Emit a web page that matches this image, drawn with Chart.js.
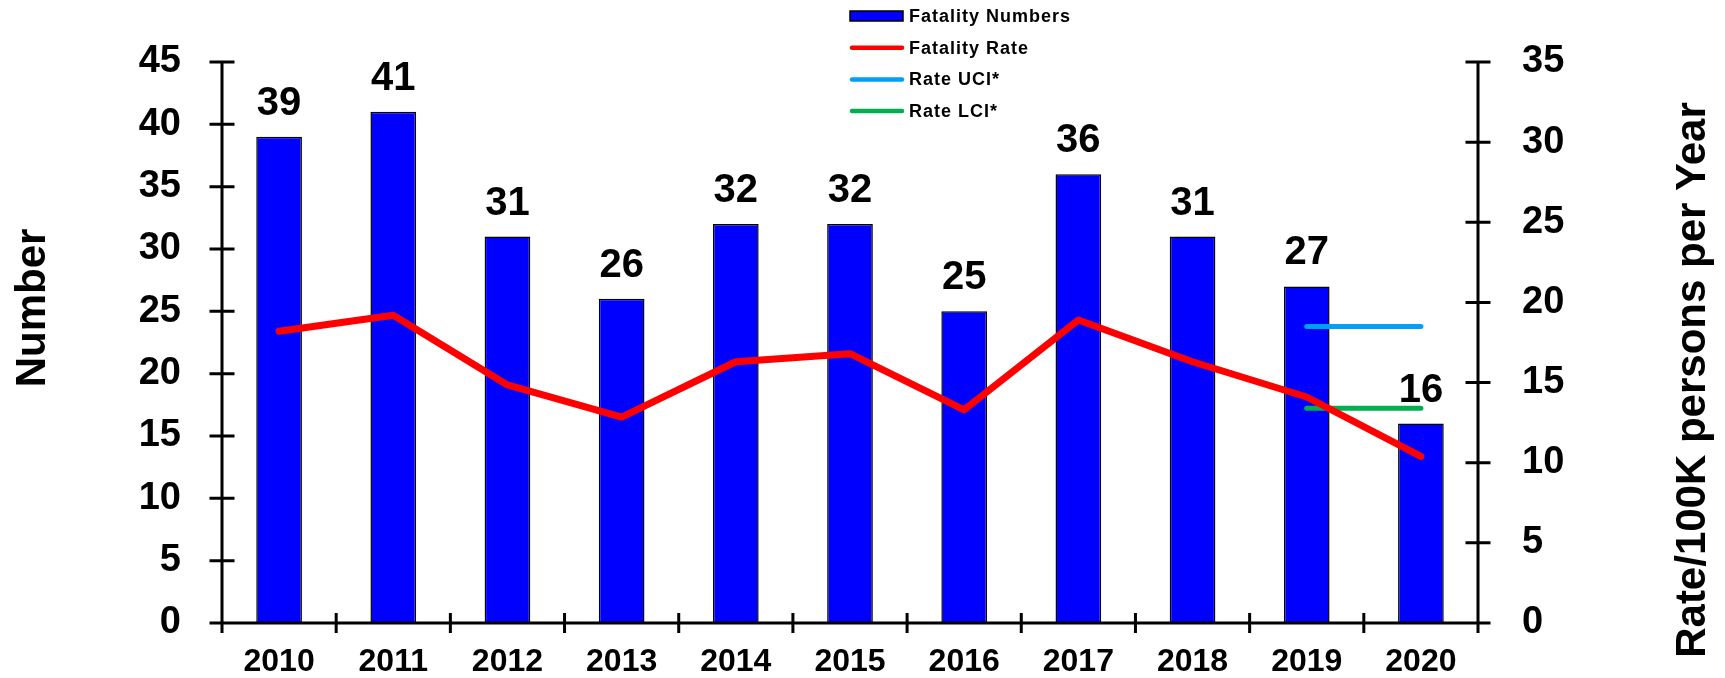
<!DOCTYPE html>
<html>
<head>
<meta charset="utf-8">
<script src="https://cdn.jsdelivr.net/npm/chart.js@4/dist/chart.umd.min.js"></script>
<style>
html,body{margin:0;padding:0;background:#fff;}
canvas{display:block;}
</style>
</head>
<body>
<canvas id="c" width="1725" height="678"></canvas>
<script>
const years = ['2010','2011','2012','2013','2014','2015','2016','2017','2018','2019','2020'];
const fatalityNumbers = [39, 41, 31, 26, 32, 32, 25, 36, 31, 27, 16];
const fatalityRate = [18.2, 19.2, 14.85, 12.85, 16.3, 16.8, 13.3, 18.9, 16.3, 14.1, 10.4];
const rateUCI = [null, null, null, null, null, null, null, null, null, 18.5, 18.5];
const rateLCI = [null, null, null, null, null, null, null, null, null, 13.4, 13.4];
const leftTicks = [0, 5, 10, 15, 20, 25, 30, 35, 40, 45];
const rightTicks = [0, 5, 10, 15, 20, 25, 30, 35];
const leftTitle = 'Number';
const rightTitle = 'Rate/100K persons per Year';

const FONT = '"Liberation Sans", Arial, Helvetica, sans-serif';

const axesPlugin = {
  id: 'axesPlugin',
  afterDatasetsDraw(chart) {
    const ctx = chart.ctx;
    const ca = chart.chartArea;
    const x = chart.scales.x, yL = chart.scales.y, yR = chart.scales.y1;
    ctx.save();
    ctx.strokeStyle = '#000';
    ctx.lineWidth = 3;
    ctx.lineCap = 'butt';
    const T = 12.5;
    ctx.beginPath();
    ctx.moveTo(ca.left, ca.top); ctx.lineTo(ca.left, ca.bottom);
    leftTicks.forEach(v => { const py = yL.getPixelForValue(v); ctx.moveTo(ca.left - T, py); ctx.lineTo(ca.left + T, py); });
    ctx.moveTo(ca.right, ca.top); ctx.lineTo(ca.right, ca.bottom);
    rightTicks.forEach(v => { const py = yR.getPixelForValue(v); ctx.moveTo(ca.right - T, py); ctx.lineTo(ca.right + T, py); });
    ctx.moveTo(ca.left, ca.bottom); ctx.lineTo(ca.right, ca.bottom);
    const n = years.length;
    const step = x.getPixelForValue(1) - x.getPixelForValue(0);
    for (let i = 0; i <= n; i++) {
      const px = x.getPixelForValue(0) - step / 2 + i * step;
      ctx.moveTo(px, ca.bottom - 10); ctx.lineTo(px, ca.bottom + 10);
    }
    ctx.stroke();

    const meta = chart.getDatasetMeta(0);
    ctx.fillStyle = '#000';
    ctx.font = 'bold 40px ' + FONT;
    ctx.textAlign = 'center';
    ctx.textBaseline = 'alphabetic';
    meta.data.forEach((bar, i) => {
      ctx.fillText(String(fatalityNumbers[i]), bar.x, bar.y - 22);
    });

    ctx.font = 'bold 42px ' + FONT;
    ctx.textBaseline = 'middle';
    ctx.save();
    ctx.translate(33, 308);
    ctx.rotate(-Math.PI / 2);
    ctx.fillText(leftTitle, 0, 0);
    ctx.restore();
    ctx.save();
    ctx.translate(1693, 380);
    ctx.rotate(-Math.PI / 2);
    ctx.fillText(rightTitle, 0, 0);
    ctx.restore();

    const items = chart.data.datasets;
    const lx = 850, ly0 = 16, dy = 31.7;
    ctx.font = 'bold 18px ' + FONT;
    try { ctx.letterSpacing = '1px'; } catch (e) {}
    ctx.textAlign = 'left';
    items.forEach((ds, i) => {
      const yy = ly0 + i * dy;
      if (ds.type === 'bar') {
        ctx.fillStyle = ds.backgroundColor;
        ctx.fillRect(lx, yy - 5, 53, 10);
        ctx.lineWidth = 1.5; ctx.strokeStyle = '#000';
        ctx.strokeRect(lx, yy - 5, 53, 10);
      } else {
        ctx.strokeStyle = ds.borderColor;
        ctx.lineWidth = 4.5; ctx.lineCap = 'round';
        ctx.beginPath(); ctx.moveTo(lx + 2, yy); ctx.lineTo(lx + 52, yy); ctx.stroke();
      }
      ctx.fillStyle = '#000';
      ctx.fillText(ds.label, lx + 59, yy + 1);
    });
    ctx.restore();
  }
};

new Chart(document.getElementById('c'), {
  data: {
    labels: years,
    datasets: [
      { type: 'bar', label: 'Fatality Numbers', data: fatalityNumbers, yAxisID: 'y',
        backgroundColor: '#0000FF', borderColor: '#000', borderWidth: 1.5,
        barPercentage: 0.4, categoryPercentage: 1, order: 10 },
      { type: 'line', label: 'Fatality Rate', data: fatalityRate, yAxisID: 'y1',
        borderColor: '#FF0000', borderWidth: 7, pointRadius: 0, tension: 0,
        borderCapStyle: 'round', borderJoinStyle: 'round', fill: false, order: 1 },
      { type: 'line', label: 'Rate UCI*', data: rateUCI, yAxisID: 'y1',
        borderColor: '#00A0F5', borderWidth: 5, pointRadius: 0, tension: 0,
        borderCapStyle: 'round', fill: false, spanGaps: false, order: 2 },
      { type: 'line', label: 'Rate LCI*', data: rateLCI, yAxisID: 'y1',
        borderColor: '#00B050', borderWidth: 5, pointRadius: 0, tension: 0,
        borderCapStyle: 'round', fill: false, spanGaps: false, order: 3 }
    ]
  },
  options: {
    responsive: false,
    animation: false,
    devicePixelRatio: 1,
    layout: { padding: { top: 62, left: 0, right: 0, bottom: 0 } },
    plugins: { legend: { display: false }, tooltip: { enabled: false } },
    scales: {
      x: {
        offset: true,
        grid: { display: false, drawTicks: false, tickLength: 0 }, border: { display: false },
        ticks: { color: '#000', font: { family: FONT, size: 32, weight: 'bold' }, padding: 20, maxRotation: 0 },
        afterFit(s) { s.height = 55; s.paddingLeft = 0; s.paddingRight = 0; }
      },
      y: {
        position: 'left', min: 0, max: 45,
        grid: { display: false, drawTicks: false, tickLength: 0 }, border: { display: false },
        ticks: { stepSize: 5, color: '#000', font: { family: FONT, size: 38, weight: 'bold' }, padding: 41 },
        afterFit(s) { s.width = 222; s.paddingTop = 0; s.paddingBottom = 0; }
      },
      y1: {
        position: 'right', min: 0, max: 35,
        grid: { display: false, drawTicks: false, tickLength: 0 }, border: { display: false },
        ticks: { stepSize: 5, color: '#000', font: { family: FONT, size: 38, weight: 'bold' }, padding: 44 },
        afterFit(s) { s.width = 247; s.paddingTop = 0; s.paddingBottom = 0; }
      }
    }
  },
  plugins: [axesPlugin]
});
</script>
</body>
</html>
